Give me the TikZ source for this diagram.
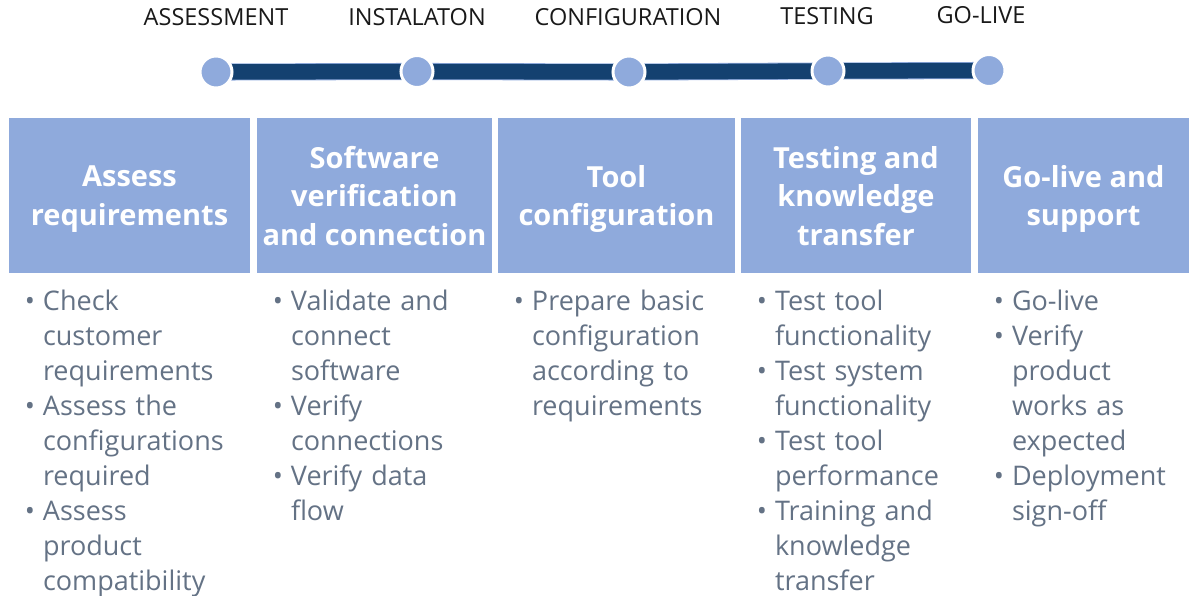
\documentclass[tikz,border=0pt]{standalone}
\usepackage{fontspec}
\setmainfont{Open Sans}
\usetikzlibrary{positioning,backgrounds}
\definecolor{boxblue}{RGB}{143,170,220}
\definecolor{barblue}{RGB}{20,65,112}
\definecolor{listgray}{RGB}{100,114,133}
\tikzstyle{phase} = [font=\fontsize{23.5}{27}\selectfont, text=black!90, inner sep=0pt, anchor=base]
\tikzstyle{milestone} = [circle, fill=boxblue, draw=white, line width=3pt,
    minimum size=32pt, inner sep=0pt]
\tikzstyle{bar} = [draw=boxblue, line width=0.8pt, double=barblue, double distance=15.5pt]
\tikzstyle{block} = [rectangle, fill=boxblue, text=white, align=center, text depth=-3pt,
    minimum height=155pt, inner sep=0pt, font=\fontsize{29}{38.5}\selectfont\bfseries]
\tikzstyle{tasks} = [anchor=base west, text width=200pt, align=left, inner sep=0pt,
    text=listgray, font=\fontsize{27}{35.1}\selectfont]
\newcommand{\blt}{\leavevmode\llap{\textbullet\hspace{8pt}}}

\begin{document}
\begin{tikzpicture}[x=1pt, y=-1pt]
        \useasboundingbox (0,0) rectangle (1189,596);
        % Place nodes
        \node [phase] (l1) at (216,26) {ASSESSMENT};
        \node [phase] (l2) at (417,26) {INSTALATON};
        \node [phase] (l3) at (628,26) {CONFIGURATION};
        \node [phase] (l4) at (827,25) {TESTING};
        \node [phase] (l5) at (981,24) {GO-LIVE};
        \node [milestone] (m1) at (216,72) {};
        \node [milestone] (m2) at (417,71.5) {};
        \node [milestone] (m3) at (629,72) {};
        \node [milestone] (m4) at (828,71) {};
        \node [milestone] (m5) at (989,70.5) {};
        \node [block, minimum width=241pt] (assess) at (129.5,195.5) {Assess\\requirements};
        \node [block, minimum width=235pt] (verify) at (374.5,195.5) {Software\\verification\\and connection};
        \node [block, minimum width=237pt] (config) at (616.5,195.5) {Tool\\configuration};
        \node [block, minimum width=230pt] (testing) at (856,195.5) {Testing and\\knowledge\\transfer};
        \node [block, minimum width=211pt] (golive) at (1083.5,195.5) {Go-live and\\support};
        \node [tasks] (assesslist) at ([shift={(34,37)}]assess.south west)
            {\blt Check\\customer\\requirements\\\blt Assess the\\configurations\\required\\\blt Assess\\product\\compatibility};
        \node [tasks] (verifylist) at ([shift={(34,37)}]verify.south west)
            {\blt Validate and\\connect\\software\\\blt Verify\\connections\\\blt Verify data\\flow};
        \node [tasks] (configlist) at ([shift={(34,37)}]config.south west)
            {\blt Prepare basic\\configuration\\according to\\requirements};
        \node [tasks] (testinglist) at ([shift={(34,37)}]testing.south west)
            {\blt Test tool\\functionality\\\blt Test system\\functionality\\\blt Test tool\\performance\\\blt Training and\\knowledge\\transfer};
        \node [tasks] (golivelist) at ([shift={(34,37)}]golive.south west)
            {\blt Go-live\\\blt Verify\\product\\works as\\expected\\\blt Deployment\\sign-off};
        % Draw edges
        \begin{scope}[on background layer]
        \path [bar] (m1.center) -- (m2.center);
        \path [bar] (m2.center) -- (m3.center);
        \path [bar] (m3.center) -- (m4.center);
        \path [bar] (m4.center) -- (m5.center);
        \end{scope}
    \end{tikzpicture}
\end{document}
